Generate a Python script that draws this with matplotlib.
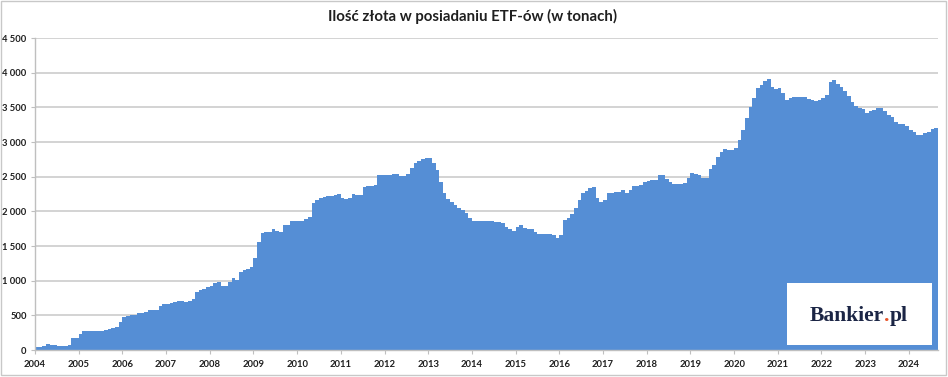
import numpy as np
import matplotlib.pyplot as plt
from matplotlib.patches import Rectangle

title = "Ilość złota w posiadaniu ETF-ów (w tonach)"
year_labels = [str(y) for y in range(2004, 2025)]
y_ticks = [0, 500, 1000, 1500, 2000, 2500, 3000, 3500, 4000, 4500]
y_tick_labels = ["0", "500", "1 000", "1 500", "2 000", "2 500", "3 000", "3 500", "4 000", "4 500"]

# gold held by ETFs, tonnes, monthly (Jan 2004 - Aug 2024)
etf_2004 = [45, 50, 55, 90, 75, 65, 60, 62, 62, 65, 175, 180]
etf_2005 = [235, 280, 270, 275, 270, 275, 280, 290, 300, 315, 335, 410]
etf_2006 = [480, 495, 500, 510, 530, 540, 555, 575, 575, 580, 640, 660]
etf_2007 = [665, 685, 690, 700, 700, 690, 700, 730, 840, 870, 880, 910]
etf_2008 = [930, 960, 985, 925, 920, 980, 1045, 1015, 1120, 1160, 1165, 1200]
etf_2009 = [1320, 1560, 1690, 1695, 1700, 1740, 1710, 1705, 1800, 1810, 1865, 1865]
etf_2010 = [1860, 1855, 1885, 1925, 2125, 2165, 2190, 2210, 2215, 2220, 2235, 2250]
etf_2011 = [2190, 2185, 2190, 2250, 2235, 2240, 2350, 2370, 2370, 2375, 2520, 2525]
etf_2012 = [2525, 2530, 2538, 2538, 2505, 2510, 2538, 2620, 2690, 2730, 2760, 2765]
etf_2013 = [2765, 2700, 2600, 2420, 2270, 2180, 2140, 2090, 2055, 2020, 1970, 1900]
etf_2014 = [1865, 1865, 1865, 1865, 1860, 1860, 1850, 1850, 1830, 1780, 1740, 1720]
etf_2015 = [1770, 1800, 1755, 1740, 1740, 1705, 1675, 1675, 1675, 1670, 1655, 1610]
etf_2016 = [1660, 1875, 1900, 1960, 2045, 2170, 2260, 2300, 2330, 2355, 2190, 2140]
etf_2017 = [2165, 2260, 2265, 2285, 2285, 2305, 2270, 2310, 2365, 2365, 2380, 2430]
etf_2018 = [2440, 2445, 2445, 2520, 2520, 2460, 2430, 2395, 2395, 2400, 2415, 2480]
etf_2019 = [2560, 2535, 2530, 2475, 2480, 2610, 2670, 2790, 2860, 2905, 2885, 2890]
etf_2020 = [2920, 3030, 3170, 3340, 3510, 3630, 3775, 3820, 3880, 3910, 3800, 3765]
etf_2021 = [3775, 3700, 3605, 3630, 3650, 3655, 3655, 3650, 3620, 3605, 3585, 3600]
etf_2022 = [3630, 3680, 3870, 3895, 3830, 3790, 3740, 3665, 3580, 3520, 3485, 3470]
etf_2023 = [3420, 3450, 3455, 3485, 3485, 3440, 3390, 3355, 3295, 3260, 3255, 3230]
etf_2024 = [3175, 3150, 3100, 3100, 3125, 3150, 3185, 3200]

holdings = (etf_2004 + etf_2005 + etf_2006 + etf_2007 + etf_2008 + etf_2009 + etf_2010
            + etf_2011 + etf_2012 + etf_2013 + etf_2014 + etf_2015 + etf_2016 + etf_2017
            + etf_2018 + etf_2019 + etf_2020 + etf_2021 + etf_2022 + etf_2023 + etf_2024)

bar_color = "#558ED5"
text_color = "#1F1F1F"
axis_gray = "#BFBFBF"

plt.rcParams['font.family'] = ['Lato', 'DejaVu Sans']

fig = plt.figure(figsize=(9.48, 3.77), dpi=100)
ax = fig.add_axes([35 / 948, 27 / 377, 903 / 948, 312 / 377])

months = np.arange(len(holdings))
ax.bar(months, holdings, width=1.0, align='edge', color=bar_color,
       linewidth=0, antialiased=False, zorder=2)

ax.set_xlim(0, 248)
ax.set_ylim(0, 4500)
ax.set_yticks(y_ticks)
ax.set_yticklabels(y_tick_labels)
ax.set_xticks(np.arange(len(year_labels)) * 12)
ax.set_xticklabels(year_labels)

ax.grid(axis='y', color='#D0D0D0', linewidth=1.3, zorder=1)
ax.set_axisbelow(True)
for side in ['top', 'right']:
    ax.spines[side].set_visible(False)
for side in ['left', 'bottom']:
    ax.spines[side].set_color(axis_gray)
    ax.spines[side].set_linewidth(1.0)
    ax.spines[side].set_zorder(3)

ax.tick_params(axis='x', length=3, color=axis_gray, pad=4, labelsize=6.8,
               labelcolor=text_color)
ax.tick_params(axis='y', length=3, color=axis_gray, pad=3, labelsize=6.8,
               labelcolor=text_color)
for lbl in ax.get_xticklabels() + ax.get_yticklabels():
    lbl.set_fontweight('bold')

fig.text(0.498, 0.955, title, ha='center', va='center', fontsize=10.8,
         fontweight='bold', color=text_color)

# chart border
fig.add_artist(Rectangle((1 / 948, 2 / 377), 945 / 948, 374 / 377, transform=fig.transFigure,
                         fill=False, edgecolor='#C8C8C8', linewidth=1.0, zorder=10))

# logo box
fig.add_artist(Rectangle((787 / 948, 32 / 377), 145 / 948, 62 / 377, transform=fig.transFigure,
                         facecolor='white', edgecolor='none', zorder=5))

renderer = fig.canvas.get_renderer()
logo_parts = [("Bankier", "#1B2545"), (".", "#E8542A"), ("pl", "#1B2545")]
logo_style = dict(fontsize=15.5, fontweight='bold', family='Liberation Serif',
                  va='baseline', ha='left', zorder=6)
pieces = []
for txt, col in logo_parts:
    t = fig.text(0, 56 / 377, txt, color=col, **logo_style)
    pieces.append(t)
widths = [p.get_window_extent(renderer).width / fig.bbox.width for p in pieces]
x = 859 / 948 - sum(widths) / 2
for p, w in zip(pieces, widths):
    p.set_x(x)
    x += w

fig.savefig("out.png", dpi=100)
